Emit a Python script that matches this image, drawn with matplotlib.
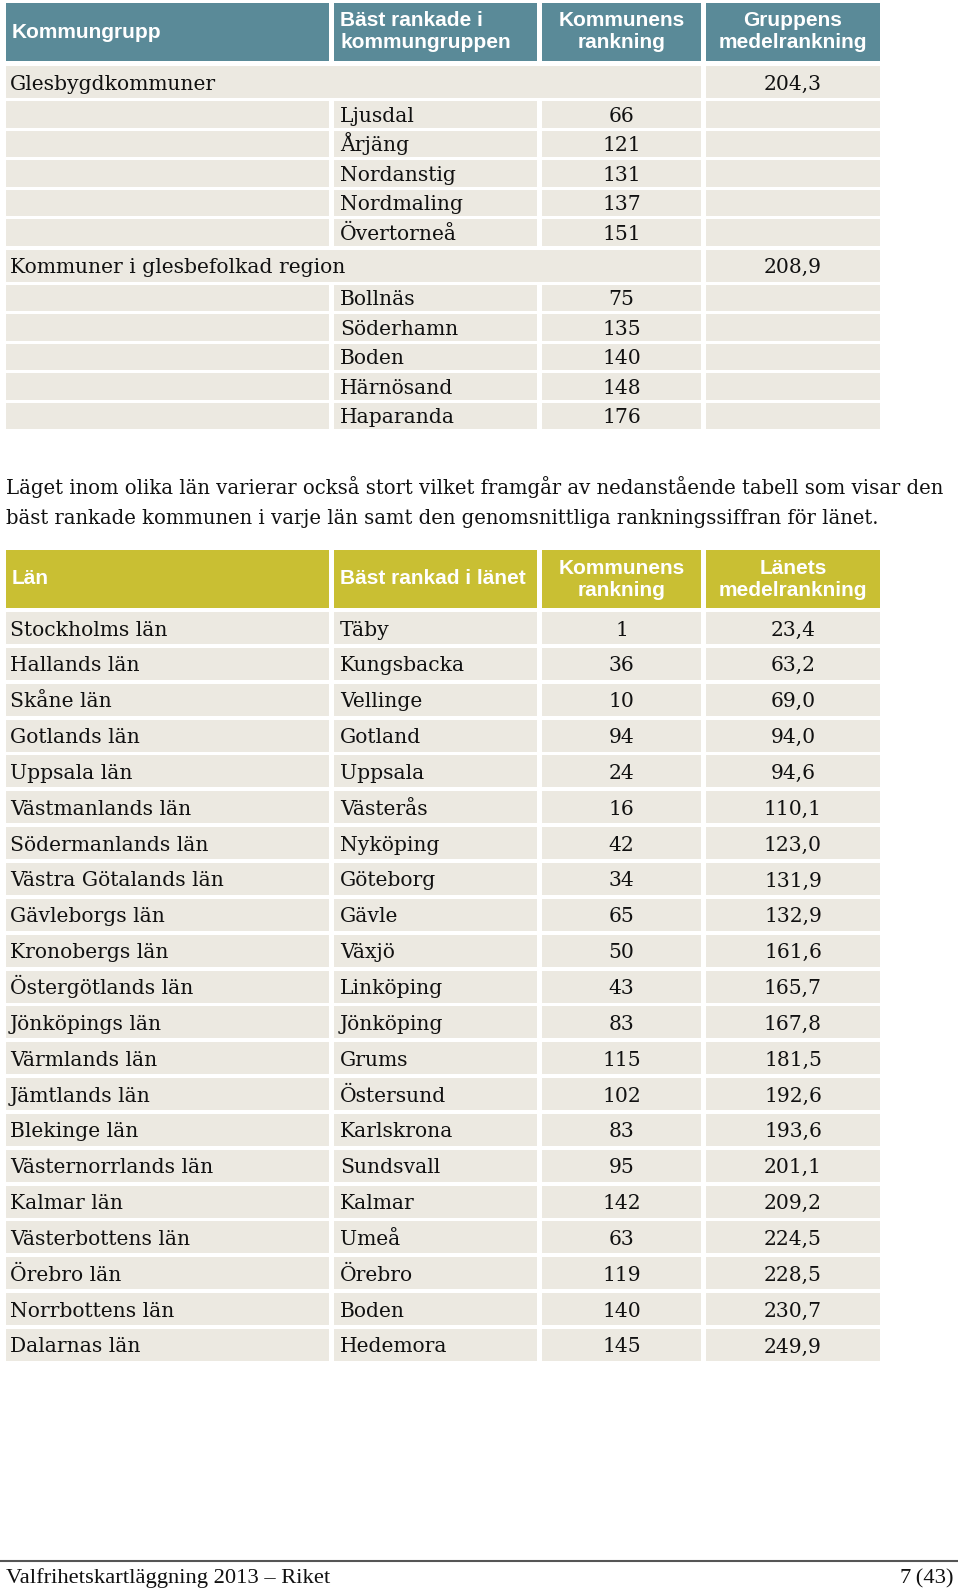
import matplotlib
matplotlib.use("Agg")
import matplotlib.pyplot as plt
from matplotlib.patches import Rectangle

# ---------------- data ----------------
headers1 = ["Kommungrupp", "Bäst rankade i\nkommungruppen", "Kommunens\nrankning", "Gruppens\nmedelrankning"]
group_names = ["Glesbygdkommuner", "Kommuner i glesbefolkad region"]
group_means = [204.3, 208.9]
group1_members = ["Ljusdal", "Årjäng", "Nordanstig", "Nordmaling", "Övertorneå"]
group1_ranks = [66, 121, 131, 137, 151]
group2_members = ["Bollnäs", "Söderhamn", "Boden", "Härnösand", "Haparanda"]
group2_ranks = [75, 135, 140, 148, 176]

paragraph = ["Läget inom olika län varierar också stort vilket framgår av nedanstående tabell som visar den",
             "bäst rankade kommunen i varje län samt den genomsnittliga rankningssiffran för länet."]

headers2 = ["Län", "Bäst rankad i länet", "Kommunens\nrankning", "Länets\nmedelrankning"]
lan = ["Stockholms län", "Hallands län", "Skåne län", "Gotlands län", "Uppsala län",
       "Västmanlands län", "Södermanlands län", "Västra Götalands län", "Gävleborgs län",
       "Kronobergs län", "Östergötlands län", "Jönköpings län", "Värmlands län",
       "Jämtlands län", "Blekinge län", "Västernorrlands län", "Kalmar län",
       "Västerbottens län", "Örebro län", "Norrbottens län", "Dalarnas län"]
best_in_lan = ["Täby", "Kungsbacka", "Vellinge", "Gotland", "Uppsala", "Västerås", "Nyköping",
               "Göteborg", "Gävle", "Växjö", "Linköping", "Jönköping", "Grums", "Östersund",
               "Karlskrona", "Sundsvall", "Kalmar", "Umeå", "Örebro", "Boden", "Hedemora"]
kommun_rank = [1, 36, 10, 94, 24, 16, 42, 34, 65, 50, 43, 83, 115, 102, 83, 95, 142, 63, 119, 140, 145]
lan_mean = [23.4, 63.2, 69.0, 94.0, 94.6, 110.1, 123.0, 131.9, 132.9, 161.6, 165.7, 167.8,
            181.5, 192.6, 193.6, 201.1, 209.2, 224.5, 228.5, 230.7, 249.9]

footer_left = "Valfrihetskartläggning 2013 – Riket"
footer_right = "7\u2009(43)"

# ---------------- style ----------------
W, H = 960, 1589
TEAL = "#5a8a98"
OLIVE = "#c9bf33"
CELL = "#ece9e1"
TXT = "#111111"
SERIF = ["DejaVu Serif"]
SANS = ["Liberation Sans", "DejaVu Sans"]
BODY_FS = 14.6
PARA_FS = 14.15
HEAD_FS = 15.0

cols = [(6, 329), (334, 537), (542, 701), (706, 880)]

fig = plt.figure(figsize=(W / 100, H / 100), dpi=100)
ax = fig.add_axes([0, 0, 1, 1])
ax.set_xlim(0, W)
ax.set_ylim(H, 0)
ax.axis("off")


def cell(x0, x1, y0, h, color):
    ax.add_patch(Rectangle((x0, y0), x1 - x0, h, facecolor=color, edgecolor="none"))


def body_text(x, yc, s, ha="left"):
    ax.text(x, yc + 7.5, s, ha=ha, va="baseline", fontsize=BODY_FS, family=SERIF, color=TXT)


def header(y0, h, labels, color):
    for i, (x0, x1) in enumerate(cols):
        cell(x0, x1, y0, h, color)
        lab = labels[i]
        if i < 2:
            ax.text(x0 + 6, y0 + h / 2, lab, ha="left", va="center", fontsize=HEAD_FS,
                    family=SANS, weight="bold", color="white", linespacing=1.2)
        else:
            ax.text((x0 + x1) / 2, y0 + h / 2, lab, ha="center", va="center", fontsize=HEAD_FS,
                    family=SANS, weight="bold", color="white", linespacing=1.2)


def fmt(v):
    return f"{v:.1f}".replace(".", ",")


# ---------------- table 1 ----------------
header(3, 58, headers1, TEAL)
y = 66
GROUP_H, SUB_H, GAP = 32, 26.5, 3.0
groups = [(group1_members, group1_ranks), (group2_members, group2_ranks)]
for gi, (name, mean) in enumerate(zip(group_names, group_means)):
    cell(cols[0][0], cols[2][1], y, GROUP_H, CELL)
    cell(cols[3][0], cols[3][1], y, GROUP_H, CELL)
    body_text(cols[0][0] + 4, y + GROUP_H / 2, name)
    body_text(sum(cols[3]) / 2, y + GROUP_H / 2, fmt(mean), ha="center")
    y += GROUP_H + GAP
    members, ranks = groups[gi]
    for m, r in zip(members, ranks):
        for (x0, x1) in cols:
            cell(x0, x1, y, SUB_H, CELL)
        body_text(cols[1][0] + 6, y + SUB_H / 2, m)
        body_text(sum(cols[2]) / 2, y + SUB_H / 2, str(r), ha="center")
        y += SUB_H + GAP
    y += 1

# ---------------- paragraph ----------------
for i, line in enumerate(paragraph):
    ax.text(6, 494 + i * 29.5, line, ha="left", va="baseline", fontsize=PARA_FS,
            family=SERIF, color=TXT)

# ---------------- table 2 ----------------
header(550, 58, headers2, OLIVE)
ROW_H, PITCH = 32, 35.85
for i in range(len(lan)):
    y0 = 612 + i * PITCH
    for (x0, x1) in cols:
        cell(x0, x1, y0, ROW_H, CELL)
    yc = y0 + ROW_H / 2
    body_text(cols[0][0] + 4, yc, lan[i])
    body_text(cols[1][0] + 6, yc, best_in_lan[i])
    body_text(sum(cols[2]) / 2, yc, str(kommun_rank[i]), ha="center")
    body_text(sum(cols[3]) / 2, yc, fmt(lan_mean[i]), ha="center")

# ---------------- footer ----------------
ax.plot([0, 958], [1561, 1561], color="#555555", lw=1.5, solid_capstyle="butt")
ax.text(6, 1583, footer_left, ha="left", va="baseline", fontsize=16.2,
        family=["Liberation Serif", "DejaVu Serif"], color=TXT)
ax.text(953, 1583, footer_right, ha="right", va="baseline", fontsize=16.2,
        family=["Liberation Serif", "DejaVu Serif"], color=TXT)

fig.savefig("out.png", dpi=100)
